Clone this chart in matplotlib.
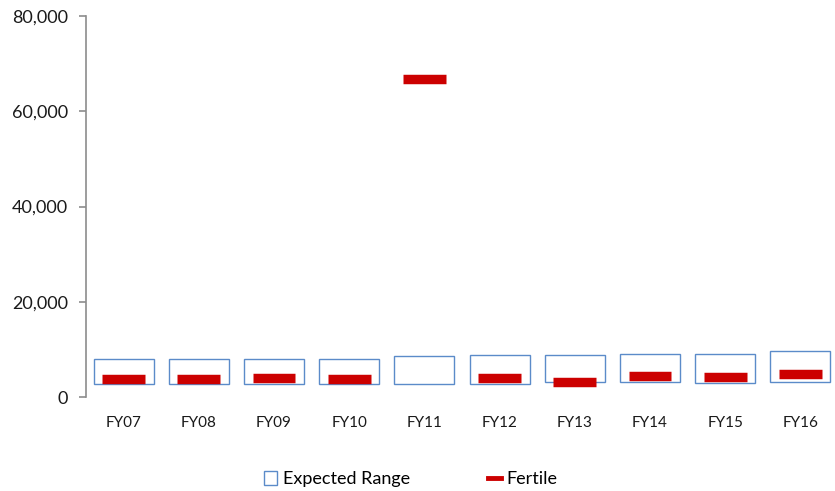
import numpy as np
import matplotlib
matplotlib.use("Agg")
import matplotlib.pyplot as plt
from matplotlib.patches import Patch
from matplotlib.lines import Line2D
from matplotlib.ticker import FuncFormatter

plt.rcParams['font.family'] = ['Lato', 'DejaVu Sans']

# data
years = ['FY07', 'FY08', 'FY09', 'FY10', 'FY11', 'FY12', 'FY13', 'FY14', 'FY15', 'FY16']
range_low = [2800, 2800, 2800, 2800, 2800, 2800, 3080, 3080, 3010, 3080]
range_high = [7900, 7900, 7900, 7900, 8670, 8820, 8820, 9100, 9100, 9600]
fertile = [3800, 3780, 3950, 3740, 66700, 3920, 3150, 4410, 4160, 4900]

x = np.arange(len(years))
heights = np.array(range_high) - np.array(range_low)

fig = plt.figure(figsize=(8.35, 4.91), dpi=100)
ax = fig.add_axes([86 / 835, 1 - 397 / 491, 1 - 86 / 835, (397 - 16) / 491])

# expected range boxes
ax.bar(x, heights, bottom=range_low, width=0.8, fill=False,
       edgecolor='#5B8BC9', linewidth=1.0)

# fertile markers (thick dashes)
ax.hlines(fertile, x - 0.285, x + 0.285, colors='#CC0000', linewidth=6.8,
          capstyle='butt', zorder=3)

ax.set_xlim(-0.5, 9.46)
ax.set_ylim(0, 80000)
ax.set_yticks([0, 20000, 40000, 60000, 80000])
ax.yaxis.set_major_formatter(FuncFormatter(lambda v, p: f'{int(v):,}'))
ax.set_xticks(x)
ax.set_xticklabels(years)

for side in ['top', 'right', 'bottom']:
    ax.spines[side].set_visible(False)
ax.spines['left'].set_color('#8C8C8C')
ax.spines['left'].set_linewidth(1.2)
ax.tick_params(axis='y', length=5, color='#8C8C8C', width=1.2, pad=8,
               labelsize=13, labelcolor='#1A1A1A')
ax.tick_params(axis='x', length=0, pad=14, labelsize=11, labelcolor='#1A1A1A')

handles = [Patch(facecolor='none', edgecolor='#5B8BC9', linewidth=1.0),
           Line2D([0], [0], color='#CC0000', linewidth=3.5)]
fig.legend(handles, ['Expected Range', 'Fertile'], loc='center',
           bbox_to_anchor=(411 / 835, 1 - 479 / 491), ncol=2, frameon=False,
           fontsize=13, handlelength=0.7, handleheight=0.8, handletextpad=0.35,
           columnspacing=4.3)

fig.savefig('out.png', dpi=100)
